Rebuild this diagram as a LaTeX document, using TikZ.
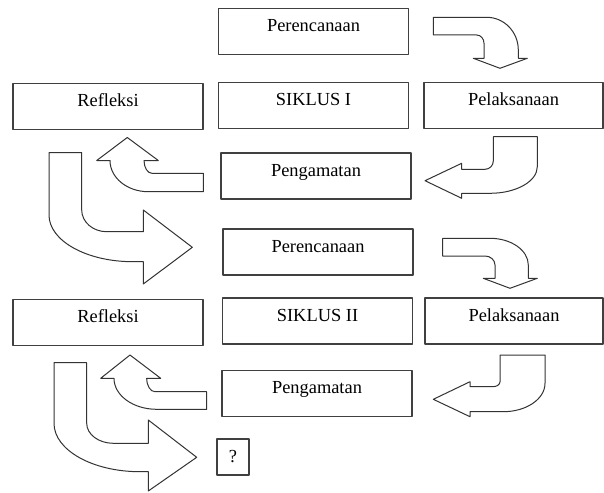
\documentclass[tikz,border=0pt]{standalone}
\usepackage{fontspec}
\setmainfont{Liberation Serif}
\usepackage{tikz}

\begin{document}
\begin{tikzpicture}[line cap=round,line join=round,x=0.5pt,y=0.5pt,
  kotak/.style={draw=black!75,line width=0.7pt,inner sep=0pt,minimum width=95pt,minimum height=23pt,
    text height=1ex,text depth=1ex,font=\fontsize{9.2}{11}\selectfont},
  tanya/.style={draw=black!75,line width=0.7pt,inner sep=0pt,minimum width=16pt,minimum height=18pt,
    font=\fontsize{9.2}{11}\selectfont},
  panah/.style={draw=black!80,line width=0.5pt,fill=white}]
\useasboundingbox (0,0) rectangle (604,-492);
% siklus I
\node [kotak] (per1) at (313.5,-31.5) {Perencanaan};
\node [kotak] (ref1) at (108,-106.5) {Refleksi};
\node [kotak] (sik1) at (313.5,-105.5) {SIKLUS I};
\node [kotak,minimum width=89.5pt] (pel1) at (513.5,-105.5) {Pelaksanaan};
\node [kotak] (peng1) at (316,-176) {Pengamatan};
% siklus II
\node [kotak] (per2) at (318,-252) {Perencanaan};
\node [kotak] (ref2) at (108,-322.5) {Refleksi};
\node [kotak] (sik2) at (317.5,-321) {SIKLUS II};
\node [kotak,minimum width=89pt] (pel2) at (514,-321) {Pelaksanaan};
\node [kotak] (peng2) at (317,-393.5) {Pengamatan};
\node [tanya] (akhir) at (233,-457) {?};
% panah blok siklus I
\draw [panah] (433.3,-17.3) -- (486.7,-17.3) arc[start angle=90,end angle=0,x radius=31.6,y radius=32.7]
  -- (518.3,-58.3) -- (527.3,-58.3) -- (500,-68.3) -- (473.3,-58.3) -- (484,-58.3) -- (484,-43.3)
  arc[start angle=0,end angle=90,x radius=7.3,y radius=8.3] -- (433.3,-35) -- cycle;
\draw [panah] (493.3,-136.7) -- (537.3,-136.7) -- (537.3,-166.7)
  arc[start angle=0,end angle=-90,x radius=47.3,y radius=26.6] -- (461.7,-193.3) -- (461.7,-198.3)
  -- (425,-180.7) -- (461.7,-163.3) -- (461.7,-169.3) -- (485,-169.3)
  arc[start angle=-90,end angle=0,x radius=8.3,y radius=8.3] -- cycle;
\draw [panah] (203.3,-173.3) -- (152,-173.3) arc[start angle=-90,end angle=-180,x radius=8,y radius=12.8]
  -- (158.3,-160.5) -- (127.3,-137.5) -- (96.7,-160.5) -- (110,-160.5)
  arc[start angle=180,end angle=270,x radius=38.3,y radius=31.2] -- (203.3,-191.7) -- cycle;
\draw [panah] (49,-152.7) -- (81.7,-152.7) -- (81.7,-210)
  arc[start angle=180,end angle=270,x radius=25,y radius=21.7] -- (143.3,-231.7) -- (143.3,-210)
  -- (192.3,-247.3) -- (143.3,-284) -- (143.3,-261.7) -- (133,-261.7)
  arc[start angle=270,end angle=180,x radius=84,y radius=46.7] -- cycle;
% panah blok siklus II
\draw [panah] (442.7,-238.3) -- (490,-238.3) arc[start angle=90,end angle=0,x radius=38.3,y radius=26.7]
  -- (528.3,-278.3) -- (537.3,-278.3) -- (510,-288.3) -- (483.3,-278.3) -- (495,-278.3) -- (495,-265)
  arc[start angle=0,end angle=90,x radius=10,y radius=9] -- (442.7,-256) -- cycle;
\draw [panah] (500,-355) -- (545,-355) -- (545,-383.3)
  arc[start angle=0,end angle=-90,x radius=41.7,y radius=28.4] -- (470,-411.7) -- (470,-416.7)
  -- (433.3,-399.3) -- (470,-381.7) -- (470,-386.7) -- (493,-386.7)
  arc[start angle=-90,end angle=0,x radius=7,y radius=5] -- cycle;
\draw [panah] (206.7,-391.7) -- (155,-391.7) arc[start angle=-90,end angle=-180,x radius=8.3,y radius=13.4]
  -- (160.7,-378.3) -- (130,-355) -- (100.7,-378.3) -- (114,-378.3)
  arc[start angle=180,end angle=270,x radius=42.7,y radius=31] -- (206.7,-409.3) -- cycle;
\draw [panah] (54,-362.7) -- (86.7,-362.7) -- (86.7,-423.3)
  arc[start angle=180,end angle=270,x radius=26.7,y radius=20] -- (148.3,-443.3) -- (148.3,-420)
  -- (196.7,-457.3) -- (148.3,-491) -- (148.3,-471.7) -- (140,-471.7)
  arc[start angle=270,end angle=180,x radius=86,y radius=48.4] -- cycle;
\end{tikzpicture}
\end{document}
